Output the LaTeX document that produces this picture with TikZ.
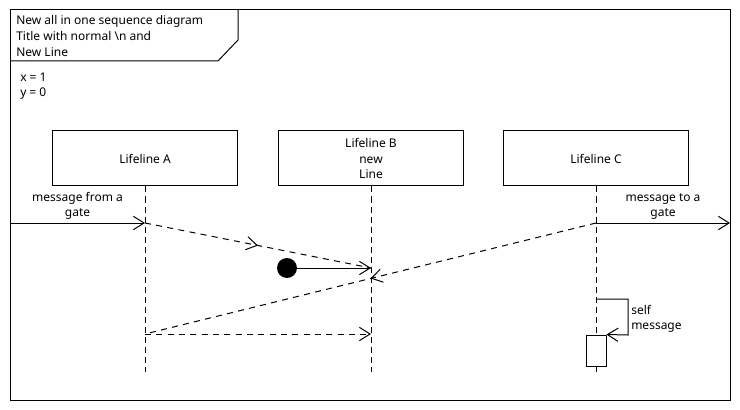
\documentclass[tikz,border=0pt]{standalone}
\usepackage{fontspec}
\setmainfont{Noto Sans}
\usetikzlibrary{arrows.meta,decorations.markings}
\newcommand{\lblfont}{\fontsize{9}{11.6}\selectfont}
\tikzset{
  ln/.style={line width=0.75pt},
  lifebox/.style={draw, line width=0.75pt, minimum width=138.75pt, minimum height=41.25pt, align=center, inner sep=0pt, font=\lblfont},
  lifeline/.style={line width=0.75pt, dash pattern=on 4.5pt off 3pt},
  msgdash/.style={line width=0.75pt, dash pattern=on 4.5pt off 4pt},
  opentip/.style={-{Straight Barb[length=8pt,width=10pt,line width=0.75pt]}},
  midarrow/.style={postaction={decorate},decoration={markings,mark=at position 0.5 with {\arrow{Straight Barb[length=8pt,width=10pt,line width=0.75pt]}}}},
  lbl/.style={font=\lblfont, align=center, inner sep=0pt},
  lbll/.style={font=\lblfont, align=left, inner sep=0pt}
}
\begin{document}
\begin{tikzpicture}[x=0.75pt,y=-0.75pt]
\useasboundingbox (0,0) rectangle (740,410);
% frame
\draw[ln] (10,10) rectangle (730,400);
\draw[ln] (10,61) -- (218,61) -- (238,40) -- (238,10);
\node[lbll, anchor=north west, font=\fontsize{9}{12}\selectfont] (title) at (16,15.5) {New all in one sequence diagram\\Title with normal \textbackslash n and\\New Line};
\node[lbll, anchor=north west] (vars) at (20,72.5) {x = 1\\y = 0};
% lifelines
\node[lifebox] (A) at (145,158.5) {Lifeline A};
\node[lifebox] (B) at (371,158.5) {Lifeline B\\new\\Line};
\node[lifebox] (C) at (596,158.5) {Lifeline C};
\coordinate (Aend) at (145,372);
\coordinate (Bend) at (371,372);
\coordinate (Cend) at (596,372);
\draw[lifeline] (A.south) -- (Aend);
\draw[lifeline] (B.south) -- (Bend);
\draw[lifeline] (C.south) -- (Cend);
% points
\coordinate (gin) at (10,223);
\coordinate (A1) at (145,223);
\coordinate (B1) at (371,268);
\coordinate (C1) at (596,223);
\coordinate (gout) at (730,223);
\coordinate (A2) at (145,334);
\coordinate (B2) at (371,334);
% gate in
\draw[ln, opentip] (gin) -- (A1);
\node[lbl, anchor=south] (glin) at (77.5,220) {message from a\\gate};
% A -> B dashed, mid arrow
\draw[msgdash, midarrow] (A1) -- (B1);
% found message
\node[circle, fill=black, minimum size=15pt, inner sep=0pt] (dot) at (287,268) {};
\draw[ln, opentip] (dot) -- (B1);
% C -> A dashed with mid arrow
\draw[msgdash, midarrow] (C1) -- (A2);
% gate out
\draw[ln, opentip] (C1) -- (gout);
\node[lbl, anchor=south] (glout) at (663,220) {message to a\\gate};
% A -> B horizontal dashed
\draw[msgdash, opentip] (A2) -- (B2);
% activation + self message
\node[draw, fill=white, line width=0.75pt, minimum width=15pt, minimum height=23.25pt, inner sep=0pt] (act) at (596,350.5) {};
\coordinate (s1) at (596,299);
\draw[ln, opentip] (s1) -- (628,299) -- (628,335) -- (act.north east);
\node[lbll, anchor=north west] (selfl) at (631,305) {self\\message};
\end{tikzpicture}
\end{document}
